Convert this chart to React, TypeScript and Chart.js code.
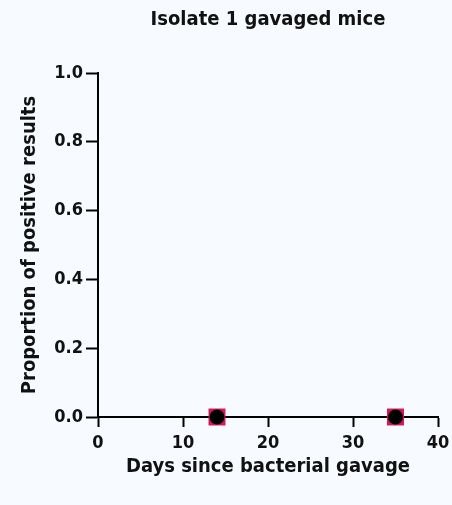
import React, { useEffect, useRef } from "react";
import { Chart, registerables } from "chart.js";

Chart.register(...registerables);

const chartTitle = "Isolate 1 gavaged mice";
const days = [14, 35];
const proportionA = [0, 0];
const proportionB = [0, 0];
const xTicks = [0, 10, 20, 30, 40];
const yTicks = [0, 0.2, 0.4, 0.6, 0.8, 1.0];

const FONT = "'Liberation Sans Narrow', 'DejaVu Sans Condensed', 'Liberation Sans', Arial, sans-serif";
const BG = "#f7fbff";

const titlePlugin = {
  id: "plotTitle",
  afterDraw(chart: any) {
    const { ctx, chartArea } = chart;
    ctx.save();
    ctx.fillStyle = "#111";
    ctx.font = `bold 20px ${FONT}`;
    ctx.textAlign = "center";
    ctx.textBaseline = "middle";
    ctx.fillText(chartTitle, (chartArea.left + chartArea.right) / 2, 20);
    ctx.restore();
  },
};

export default function App() {
  const ref = useRef<HTMLCanvasElement | null>(null);
  useEffect(() => {
    document.body.style.margin = "0";
    document.body.style.background = BG;
    const canvas = ref.current!;
    const chart = new Chart(canvas, {
      type: "scatter",
      data: {
        datasets: [
          {
            label: "B",
            data: days.map((d, i) => ({ x: d, y: proportionB[i] })),
            pointStyle: "circle",
            pointRadius: 7.5,
            backgroundColor: "#000000",
            borderColor: "#000000",
            borderWidth: 0,
            clip: false,
          },
          {
            label: "A",
            data: days.map((d, i) => ({ x: d, y: proportionA[i] })),
            pointStyle: "rect",
            pointRadius: 12,
            backgroundColor: "#d3185a",
            borderColor: "#d3185a",
            borderWidth: 0,
            clip: false,
          },
        ],
      },
      plugins: [titlePlugin],
      options: {
        responsive: false,
        animation: false,
        events: [],
        layout: { padding: { left: 14, right: 14, top: 73, bottom: 8 } },
        plugins: {
          legend: { display: false },
          tooltip: { enabled: false },
          title: { display: false },
        },
        scales: {
          x: {
            type: "linear",
            min: 0,
            max: 40,
            afterBuildTicks: (s: any) => {
              s.ticks = xTicks.map((v) => ({ value: v }));
            },
            afterFit: (s: any) => {
              s.height = 80;
              s.paddingLeft = 0;
              s.paddingRight = 0;
            },
            border: { display: true, color: "#000", width: 2 },
            grid: { drawOnChartArea: false, drawTicks: true, tickLength: 10, tickColor: "#000", tickWidth: 2 },
            ticks: { color: "#111", font: { family: FONT, size: 18, weight: "bold" }, padding: 6, maxRotation: 0 },
            title: {
              display: true,
              text: "Days since bacterial gavage",
              color: "#111",
              font: { family: FONT, size: 20, weight: "bold" },
              padding: { top: 4, bottom: 18 },
            },
          },
          y: {
            type: "linear",
            min: 0,
            max: 1,
            afterBuildTicks: (s: any) => {
              s.ticks = yTicks.map((v) => ({ value: v }));
            },
            afterFit: (s: any) => {
              s.width = 84;
              s.paddingTop = 0;
              s.paddingBottom = 0;
            },
            border: { display: true, color: "#000", width: 2 },
            grid: { drawOnChartArea: false, drawTicks: true, tickLength: 12, tickColor: "#000", tickWidth: 2 },
            ticks: {
              color: "#111",
              font: { family: FONT, size: 18, weight: "bold" },
              padding: 3,
              callback: (v: any) => Number(v).toFixed(1),
            },
            title: {
              display: true,
              text: "Proportion of positive results",
              color: "#111",
              font: { family: FONT, size: 20, weight: "bold" },
              padding: { top: 4, bottom: 4 },
            },
          },
        },
      },
    });
    return () => chart.destroy();
  }, []);
  return (
    <div style={{ width: 452, height: 505, background: BG }}>
      <canvas ref={ref} width={452} height={505} style={{ display: "block" }} />
    </div>
  );
}
